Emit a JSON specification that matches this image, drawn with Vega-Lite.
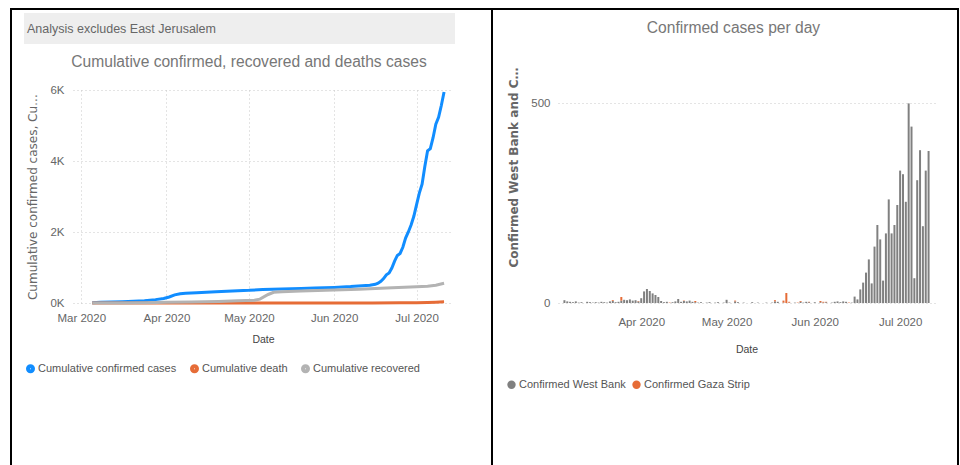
{
  "$schema": "https://vega.github.io/schema/vega-lite/v6.json",
  "padding": {"left": 10, "top": 8, "right": 0, "bottom": 0},
  "background": "white",
  "datasets": {
    "cum": [
      {"date": "2020-03-05", "series": "Cumulative confirmed cases", "value": 7},
      {"date": "2020-03-08", "series": "Cumulative confirmed cases", "value": 20},
      {"date": "2020-03-12", "series": "Cumulative confirmed cases", "value": 31},
      {"date": "2020-03-16", "series": "Cumulative confirmed cases", "value": 37},
      {"date": "2020-03-20", "series": "Cumulative confirmed cases", "value": 47},
      {"date": "2020-03-24", "series": "Cumulative confirmed cases", "value": 62},
      {"date": "2020-03-28", "series": "Cumulative confirmed cases", "value": 95},
      {"date": "2020-03-31", "series": "Cumulative confirmed cases", "value": 125},
      {"date": "2020-04-02", "series": "Cumulative confirmed cases", "value": 170},
      {"date": "2020-04-04", "series": "Cumulative confirmed cases", "value": 230},
      {"date": "2020-04-06", "series": "Cumulative confirmed cases", "value": 262},
      {"date": "2020-04-08", "series": "Cumulative confirmed cases", "value": 275},
      {"date": "2020-04-12", "series": "Cumulative confirmed cases", "value": 290},
      {"date": "2020-04-19", "series": "Cumulative confirmed cases", "value": 320},
      {"date": "2020-04-25", "series": "Cumulative confirmed cases", "value": 340},
      {"date": "2020-05-01", "series": "Cumulative confirmed cases", "value": 357},
      {"date": "2020-05-06", "series": "Cumulative confirmed cases", "value": 380},
      {"date": "2020-05-13", "series": "Cumulative confirmed cases", "value": 395},
      {"date": "2020-05-20", "series": "Cumulative confirmed cases", "value": 410},
      {"date": "2020-05-25", "series": "Cumulative confirmed cases", "value": 425},
      {"date": "2020-06-01", "series": "Cumulative confirmed cases", "value": 440},
      {"date": "2020-06-07", "series": "Cumulative confirmed cases", "value": 462},
      {"date": "2020-06-14", "series": "Cumulative confirmed cases", "value": 500},
      {"date": "2020-06-15", "series": "Cumulative confirmed cases", "value": 516},
      {"date": "2020-06-16", "series": "Cumulative confirmed cases", "value": 525},
      {"date": "2020-06-17", "series": "Cumulative confirmed cases", "value": 559},
      {"date": "2020-06-18", "series": "Cumulative confirmed cases", "value": 610},
      {"date": "2020-06-19", "series": "Cumulative confirmed cases", "value": 686},
      {"date": "2020-06-20", "series": "Cumulative confirmed cases", "value": 795},
      {"date": "2020-06-21", "series": "Cumulative confirmed cases", "value": 844},
      {"date": "2020-06-22", "series": "Cumulative confirmed cases", "value": 985},
      {"date": "2020-06-23", "series": "Cumulative confirmed cases", "value": 1180},
      {"date": "2020-06-24", "series": "Cumulative confirmed cases", "value": 1339},
      {"date": "2020-06-25", "series": "Cumulative confirmed cases", "value": 1395},
      {"date": "2020-06-26", "series": "Cumulative confirmed cases", "value": 1569},
      {"date": "2020-06-27", "series": "Cumulative confirmed cases", "value": 1828},
      {"date": "2020-06-28", "series": "Cumulative confirmed cases", "value": 2002},
      {"date": "2020-06-29", "series": "Cumulative confirmed cases", "value": 2197},
      {"date": "2020-06-30", "series": "Cumulative confirmed cases", "value": 2442},
      {"date": "2020-07-01", "series": "Cumulative confirmed cases", "value": 2773},
      {"date": "2020-07-02", "series": "Cumulative confirmed cases", "value": 3095},
      {"date": "2020-07-03", "series": "Cumulative confirmed cases", "value": 3348},
      {"date": "2020-07-04", "series": "Cumulative confirmed cases", "value": 3847},
      {"date": "2020-07-05", "series": "Cumulative confirmed cases", "value": 4288},
      {"date": "2020-07-06", "series": "Cumulative confirmed cases", "value": 4350},
      {"date": "2020-07-07", "series": "Cumulative confirmed cases", "value": 4657},
      {"date": "2020-07-08", "series": "Cumulative confirmed cases", "value": 5039},
      {"date": "2020-07-09", "series": "Cumulative confirmed cases", "value": 5231},
      {"date": "2020-07-10", "series": "Cumulative confirmed cases", "value": 5562},
      {"date": "2020-07-11", "series": "Cumulative confirmed cases", "value": 5942},
      {"date": "2020-03-05", "series": "Cumulative death", "value": 0},
      {"date": "2020-03-26", "series": "Cumulative death", "value": 1},
      {"date": "2020-04-05", "series": "Cumulative death", "value": 2},
      {"date": "2020-05-25", "series": "Cumulative death", "value": 3},
      {"date": "2020-06-15", "series": "Cumulative death", "value": 3},
      {"date": "2020-06-25", "series": "Cumulative death", "value": 5},
      {"date": "2020-07-01", "series": "Cumulative death", "value": 8},
      {"date": "2020-07-05", "series": "Cumulative death", "value": 14},
      {"date": "2020-07-08", "series": "Cumulative death", "value": 22},
      {"date": "2020-07-11", "series": "Cumulative death", "value": 32},
      {"date": "2020-03-05", "series": "Cumulative recovered", "value": 0},
      {"date": "2020-03-15", "series": "Cumulative recovered", "value": 2},
      {"date": "2020-03-25", "series": "Cumulative recovered", "value": 10},
      {"date": "2020-04-01", "series": "Cumulative recovered", "value": 18},
      {"date": "2020-04-10", "series": "Cumulative recovered", "value": 25},
      {"date": "2020-04-20", "series": "Cumulative recovered", "value": 45},
      {"date": "2020-04-27", "series": "Cumulative recovered", "value": 60},
      {"date": "2020-05-03", "series": "Cumulative recovered", "value": 75},
      {"date": "2020-05-05", "series": "Cumulative recovered", "value": 110},
      {"date": "2020-05-08", "series": "Cumulative recovered", "value": 240},
      {"date": "2020-05-10", "series": "Cumulative recovered", "value": 300},
      {"date": "2020-05-13", "series": "Cumulative recovered", "value": 320},
      {"date": "2020-05-20", "series": "Cumulative recovered", "value": 335},
      {"date": "2020-06-01", "series": "Cumulative recovered", "value": 365},
      {"date": "2020-06-10", "series": "Cumulative recovered", "value": 390},
      {"date": "2020-06-20", "series": "Cumulative recovered", "value": 420},
      {"date": "2020-07-01", "series": "Cumulative recovered", "value": 455},
      {"date": "2020-07-05", "series": "Cumulative recovered", "value": 470},
      {"date": "2020-07-08", "series": "Cumulative recovered", "value": 500},
      {"date": "2020-07-11", "series": "Cumulative recovered", "value": 555}
    ],
    "daily": [
      {"date": "2020-03-05", "series": "Confirmed West Bank", "value": 7},
      {"date": "2020-03-06", "series": "Confirmed West Bank", "value": 4},
      {"date": "2020-03-07", "series": "Confirmed West Bank", "value": 3},
      {"date": "2020-03-08", "series": "Confirmed West Bank", "value": 2},
      {"date": "2020-03-09", "series": "Confirmed West Bank", "value": 4},
      {"date": "2020-03-10", "series": "Confirmed West Bank", "value": 1},
      {"date": "2020-03-11", "series": "Confirmed West Bank", "value": 2},
      {"date": "2020-03-13", "series": "Confirmed West Bank", "value": 3},
      {"date": "2020-03-14", "series": "Confirmed West Bank", "value": 2},
      {"date": "2020-03-15", "series": "Confirmed West Bank", "value": 1},
      {"date": "2020-03-16", "series": "Confirmed West Bank", "value": 2},
      {"date": "2020-03-17", "series": "Confirmed West Bank", "value": 1},
      {"date": "2020-03-18", "series": "Confirmed West Bank", "value": 3},
      {"date": "2020-03-19", "series": "Confirmed West Bank", "value": 2},
      {"date": "2020-03-20", "series": "Confirmed West Bank", "value": 1},
      {"date": "2020-03-21", "series": "Confirmed West Bank", "value": 4},
      {"date": "2020-03-22", "series": "Confirmed West Bank", "value": 5},
      {"date": "2020-03-23", "series": "Confirmed West Bank", "value": 2},
      {"date": "2020-03-24", "series": "Confirmed West Bank", "value": 3},
      {"date": "2020-03-25", "series": "Confirmed West Bank", "value": 6},
      {"date": "2020-03-26", "series": "Confirmed West Bank", "value": 8},
      {"date": "2020-03-27", "series": "Confirmed West Bank", "value": 7},
      {"date": "2020-03-28", "series": "Confirmed West Bank", "value": 9},
      {"date": "2020-03-29", "series": "Confirmed West Bank", "value": 6},
      {"date": "2020-03-30", "series": "Confirmed West Bank", "value": 7},
      {"date": "2020-03-31", "series": "Confirmed West Bank", "value": 4},
      {"date": "2020-04-01", "series": "Confirmed West Bank", "value": 12},
      {"date": "2020-04-02", "series": "Confirmed West Bank", "value": 29},
      {"date": "2020-04-03", "series": "Confirmed West Bank", "value": 35},
      {"date": "2020-04-04", "series": "Confirmed West Bank", "value": 30},
      {"date": "2020-04-05", "series": "Confirmed West Bank", "value": 24},
      {"date": "2020-04-06", "series": "Confirmed West Bank", "value": 20},
      {"date": "2020-04-07", "series": "Confirmed West Bank", "value": 15},
      {"date": "2020-04-08", "series": "Confirmed West Bank", "value": 5},
      {"date": "2020-04-09", "series": "Confirmed West Bank", "value": 2},
      {"date": "2020-04-10", "series": "Confirmed West Bank", "value": 3},
      {"date": "2020-04-12", "series": "Confirmed West Bank", "value": 2},
      {"date": "2020-04-13", "series": "Confirmed West Bank", "value": 4},
      {"date": "2020-04-14", "series": "Confirmed West Bank", "value": 10},
      {"date": "2020-04-15", "series": "Confirmed West Bank", "value": 3},
      {"date": "2020-04-16", "series": "Confirmed West Bank", "value": 5},
      {"date": "2020-04-17", "series": "Confirmed West Bank", "value": 4},
      {"date": "2020-04-18", "series": "Confirmed West Bank", "value": 6},
      {"date": "2020-04-19", "series": "Confirmed West Bank", "value": 3},
      {"date": "2020-04-20", "series": "Confirmed West Bank", "value": 2},
      {"date": "2020-04-21", "series": "Confirmed West Bank", "value": 1},
      {"date": "2020-04-22", "series": "Confirmed West Bank", "value": 2},
      {"date": "2020-04-24", "series": "Confirmed West Bank", "value": 1},
      {"date": "2020-04-25", "series": "Confirmed West Bank", "value": 2},
      {"date": "2020-04-27", "series": "Confirmed West Bank", "value": 1},
      {"date": "2020-04-28", "series": "Confirmed West Bank", "value": 2},
      {"date": "2020-04-30", "series": "Confirmed West Bank", "value": 1},
      {"date": "2020-05-01", "series": "Confirmed West Bank", "value": 8},
      {"date": "2020-05-02", "series": "Confirmed West Bank", "value": 1},
      {"date": "2020-05-04", "series": "Confirmed West Bank", "value": 4},
      {"date": "2020-05-05", "series": "Confirmed West Bank", "value": 2},
      {"date": "2020-05-07", "series": "Confirmed West Bank", "value": 1},
      {"date": "2020-05-10", "series": "Confirmed West Bank", "value": 2},
      {"date": "2020-05-12", "series": "Confirmed West Bank", "value": 1},
      {"date": "2020-05-15", "series": "Confirmed West Bank", "value": 1},
      {"date": "2020-05-17", "series": "Confirmed West Bank", "value": 1},
      {"date": "2020-05-18", "series": "Confirmed West Bank", "value": 4},
      {"date": "2020-05-19", "series": "Confirmed West Bank", "value": 3},
      {"date": "2020-05-21", "series": "Confirmed West Bank", "value": 1},
      {"date": "2020-05-23", "series": "Confirmed West Bank", "value": 1},
      {"date": "2020-05-25", "series": "Confirmed West Bank", "value": 1},
      {"date": "2020-05-27", "series": "Confirmed West Bank", "value": 3},
      {"date": "2020-05-28", "series": "Confirmed West Bank", "value": 1},
      {"date": "2020-05-29", "series": "Confirmed West Bank", "value": 3},
      {"date": "2020-05-30", "series": "Confirmed West Bank", "value": 2},
      {"date": "2020-06-01", "series": "Confirmed West Bank", "value": 2},
      {"date": "2020-06-03", "series": "Confirmed West Bank", "value": 2},
      {"date": "2020-06-04", "series": "Confirmed West Bank", "value": 1},
      {"date": "2020-06-05", "series": "Confirmed West Bank", "value": 2},
      {"date": "2020-06-07", "series": "Confirmed West Bank", "value": 1},
      {"date": "2020-06-08", "series": "Confirmed West Bank", "value": 3},
      {"date": "2020-06-09", "series": "Confirmed West Bank", "value": 4},
      {"date": "2020-06-10", "series": "Confirmed West Bank", "value": 2},
      {"date": "2020-06-11", "series": "Confirmed West Bank", "value": 4},
      {"date": "2020-06-12", "series": "Confirmed West Bank", "value": 3},
      {"date": "2020-06-14", "series": "Confirmed West Bank", "value": 1},
      {"date": "2020-06-15", "series": "Confirmed West Bank", "value": 16},
      {"date": "2020-06-16", "series": "Confirmed West Bank", "value": 9},
      {"date": "2020-06-17", "series": "Confirmed West Bank", "value": 34},
      {"date": "2020-06-18", "series": "Confirmed West Bank", "value": 51},
      {"date": "2020-06-19", "series": "Confirmed West Bank", "value": 76},
      {"date": "2020-06-20", "series": "Confirmed West Bank", "value": 109},
      {"date": "2020-06-21", "series": "Confirmed West Bank", "value": 49},
      {"date": "2020-06-22", "series": "Confirmed West Bank", "value": 141},
      {"date": "2020-06-23", "series": "Confirmed West Bank", "value": 195},
      {"date": "2020-06-24", "series": "Confirmed West Bank", "value": 159},
      {"date": "2020-06-25", "series": "Confirmed West Bank", "value": 56},
      {"date": "2020-06-26", "series": "Confirmed West Bank", "value": 174},
      {"date": "2020-06-27", "series": "Confirmed West Bank", "value": 259},
      {"date": "2020-06-28", "series": "Confirmed West Bank", "value": 174},
      {"date": "2020-06-29", "series": "Confirmed West Bank", "value": 195},
      {"date": "2020-06-30", "series": "Confirmed West Bank", "value": 245},
      {"date": "2020-07-01", "series": "Confirmed West Bank", "value": 331},
      {"date": "2020-07-02", "series": "Confirmed West Bank", "value": 322},
      {"date": "2020-07-03", "series": "Confirmed West Bank", "value": 253},
      {"date": "2020-07-04", "series": "Confirmed West Bank", "value": 499},
      {"date": "2020-07-05", "series": "Confirmed West Bank", "value": 441},
      {"date": "2020-07-06", "series": "Confirmed West Bank", "value": 62},
      {"date": "2020-07-07", "series": "Confirmed West Bank", "value": 307},
      {"date": "2020-07-08", "series": "Confirmed West Bank", "value": 382},
      {"date": "2020-07-09", "series": "Confirmed West Bank", "value": 192},
      {"date": "2020-07-10", "series": "Confirmed West Bank", "value": 331},
      {"date": "2020-07-11", "series": "Confirmed West Bank", "value": 380},
      {"date": "2020-03-22", "series": "Confirmed Gaza Strip", "value": 2},
      {"date": "2020-03-25", "series": "Confirmed Gaza Strip", "value": 9},
      {"date": "2020-03-31", "series": "Confirmed Gaza Strip", "value": 1},
      {"date": "2020-04-11", "series": "Confirmed Gaza Strip", "value": 1},
      {"date": "2020-04-16", "series": "Confirmed Gaza Strip", "value": 1},
      {"date": "2020-04-20", "series": "Confirmed Gaza Strip", "value": 3},
      {"date": "2020-05-04", "series": "Confirmed Gaza Strip", "value": 2},
      {"date": "2020-05-18", "series": "Confirmed Gaza Strip", "value": 3},
      {"date": "2020-05-21", "series": "Confirmed Gaza Strip", "value": 5},
      {"date": "2020-05-22", "series": "Confirmed Gaza Strip", "value": 25},
      {"date": "2020-05-23", "series": "Confirmed Gaza Strip", "value": 2},
      {"date": "2020-05-26", "series": "Confirmed Gaza Strip", "value": 1},
      {"date": "2020-05-27", "series": "Confirmed Gaza Strip", "value": 2},
      {"date": "2020-05-30", "series": "Confirmed Gaza Strip", "value": 1},
      {"date": "2020-06-03", "series": "Confirmed Gaza Strip", "value": 3},
      {"date": "2020-06-04", "series": "Confirmed Gaza Strip", "value": 2},
      {"date": "2020-06-05", "series": "Confirmed Gaza Strip", "value": 1},
      {"date": "2020-06-13", "series": "Confirmed Gaza Strip", "value": 1}
    ]
  },
  "config": {
    "view": {"stroke": null},
    "font": "Liberation Sans, Arial, sans-serif",
    "axis": {
      "domain": false,
      "ticks": false,
      "labelFont": "Liberation Sans, Arial, sans-serif",
      "labelFontSize": 11.5,
      "labelColor": "#666666",
      "labelFlush": false,
      "titleFont": "Liberation Sans, Arial, sans-serif",
      "titleFontSize": 10.5,
      "titleFontWeight": "normal",
      "titleColor": "#444444",
      "gridColor": "#c8c8c8",
      "gridDash": [1, 3],
      "gridWidth": 1
    },
    "legend": {
      "labelFont": "Liberation Sans, Arial, sans-serif",
      "labelFontSize": 11,
      "labelColor": "#555555",
      "columnPadding": 5,
      "labelOffset": 2
    },
    "title": {
      "font": "Liberation Sans, Arial, sans-serif",
      "fontSize": 15.6,
      "fontWeight": "normal",
      "color": "#777777"
    }
  },
  "resolve": {"scale": {"color": "independent"}, "legend": {"color": "independent"}},
  "spacing": 0,
  "vconcat": [
    {
      "width": 949,
      "height": 2,
      "data": {"values": []},
      "mark": {"type": "point", "opacity": 0},
      "encoding": {},
      "view": {"fill": "#000000", "stroke": null}
    },
    {
      "spacing": 22,
      "resolve": {"scale": {"color": "independent"}, "legend": {"color": "independent"}},
      "hconcat": [
        {
          "spacing": 36,
          "resolve": {"scale": {"color": "independent"}, "legend": {"color": "independent"}},
          "hconcat": [
            {
              "spacing": 12,
              "resolve": {"scale": {"color": "independent"}, "legend": {"color": "independent"}},
              "hconcat": [
                {
                  "width": 2,
                  "height": 460,
                  "data": {"values": []},
                  "mark": {"type": "point", "opacity": 0},
                  "encoding": {},
                  "view": {"fill": "#000000", "stroke": null}
                },
                {
                  "spacing": 2,
                  "resolve": {"scale": {"color": "independent"}, "legend": {"color": "independent"}},
                  "vconcat": [
                    {
                      "width": 1,
                      "height": 1,
                      "data": {"values": []},
                      "mark": {"type": "point", "opacity": 0},
                      "encoding": {}
                    },
                    {
                      "spacing": 11,
                      "resolve": {"scale": {"color": "independent"}, "legend": {"color": "independent"}},
                      "vconcat": [
                        {
                          "width": 431,
                          "height": 31,
                          "data": {"values": [{"t": "Analysis excludes East Jerusalem"}]},
                          "mark": {"type": "text", "align": "left", "baseline": "middle", "fontSize": 12.5, "color": "#666666", "dx": 3},
                          "encoding": {
                            "text": {"field": "t"},
                            "x": {"datum": 0, "type": "quantitative", "scale": {"domain": [0, 1]}, "axis": null}
                          },
                          "view": {"fill": "#eeeeee", "stroke": null}
                        },
                        {
                          "spacing": 0,
                          "resolve": {"scale": {"color": "independent"}, "legend": {"color": "independent"}},
                          "hconcat": [
                            {
                              "width": 1,
                              "height": 1,
                              "data": {"values": []},
                              "mark": {"type": "point", "opacity": 0},
                              "encoding": {}
                            },
                            {
                              "width": 380,
                              "height": 213,
                              "title": {"text": "Cumulative confirmed, recovered and deaths cases", "anchor": "middle", "offset": 13, "dx": -14},
                              "data": {"name": "cum"},
                              "mark": {"type": "line", "strokeWidth": 3},
                              "encoding": {
                                "x": {
                                  "field": "date",
                                  "type": "temporal",
                                  "scale": {"type": "utc", "domain": [{"year": 2020, "month": 2, "date": 27, "utc": true}, {"year": 2020, "month": 7, "date": 14, "hours": 6, "utc": true}]},
                                  "axis": {
                                    "title": "Date",
                                    "format": "%b %Y",
                                    "values": [
                                      {"year": 2020, "month": 3, "date": 1, "utc": true},
                                      {"year": 2020, "month": 4, "date": 1, "utc": true},
                                      {"year": 2020, "month": 5, "date": 1, "utc": true},
                                      {"year": 2020, "month": 6, "date": 1, "utc": true},
                                      {"year": 2020, "month": 7, "date": 1, "utc": true}
                                    ],
                                    "grid": true,
                                    "labelPadding": 9,
                                    "titlePadding": 11
                                  }
                                },
                                "y": {
                                  "field": "value",
                                  "type": "quantitative",
                                  "scale": {"domain": [0, 6000]},
                                  "axis": {
                                    "title": "Cumulative confirmed cases, Cu…",
                                    "titleFont": "DejaVu Sans",
                                    "titleFontSize": 12,
                                    "titleColor": "#666666",
                                    "values": [0, 2000, 4000, 6000],
                                    "labelExpr": "datum.value / 1000 + 'K'",
                                    "grid": true,
                                    "labelPadding": 9,
                                    "titlePadding": 10
                                  }
                                },
                                "color": {
                                  "field": "series",
                                  "type": "nominal",
                                  "scale": {
                                    "domain": ["Cumulative confirmed cases", "Cumulative death", "Cumulative recovered"],
                                    "range": ["#118DFF", "#E66C37", "#B3B3B3"]
                                  },
                                  "legend": {
                                    "orient": "none",
                                    "legendX": -48,
                                    "legendY": 273,
                                    "direction": "horizontal",
                                    "title": null,
                                    "symbolType": "circle",
                                    "symbolSize": 16,
                                    "symbolStrokeWidth": 5
                                  }
                                }
                              }
                            }
                          ]
                        }
                      ]
                    }
                  ]
                }
              ]
            },
            {
              "spacing": 13,
              "resolve": {"scale": {"color": "independent"}, "legend": {"color": "independent"}},
              "hconcat": [
                {
                  "width": 2,
                  "height": 460,
                  "data": {"values": []},
                  "mark": {"type": "point", "opacity": 0},
                  "encoding": {},
                  "view": {"fill": "#000000", "stroke": null}
                },
                {
                  "spacing": 10,
                  "resolve": {"scale": {"color": "independent"}, "legend": {"color": "independent"}},
                  "vconcat": [
                    {
                      "width": 1,
                      "height": 1,
                      "data": {"values": []},
                      "mark": {"type": "point", "opacity": 0},
                      "encoding": {}
                    },
                    {
                      "width": 377,
                      "height": 240,
                      "title": {"text": "Confirmed cases per day", "anchor": "middle", "offset": 26, "dx": -13},
                      "data": {"name": "daily"},
                      "mark": {"type": "bar", "width": 2},
                      "encoding": {
                        "x": {
                          "field": "date",
                          "type": "temporal",
                          "scale": {"type": "utc", "domain": [{"year": 2020, "month": 3, "date": 4, "hours": 12, "utc": true}, {"year": 2020, "month": 7, "date": 11, "hours": 12, "utc": true}]},
                          "axis": {
                            "title": "Date",
                            "format": "%b %Y",
                            "values": [
                              {"year": 2020, "month": 4, "date": 1, "utc": true},
                              {"year": 2020, "month": 5, "date": 1, "utc": true},
                              {"year": 2020, "month": 6, "date": 1, "utc": true},
                              {"year": 2020, "month": 7, "date": 1, "utc": true}
                            ],
                            "grid": false,
                            "labelPadding": 13,
                            "titlePadding": 17
                          }
                        },
                        "y": {
                          "field": "value",
                          "type": "quantitative",
                          "stack": "zero",
                          "scale": {"domain": [0, 600]},
                          "axis": {
                            "title": "Confirmed West Bank and C…",
                            "titleFont": "DejaVu Sans",
                            "titleFontSize": 12,
                            "titleFontWeight": "bold",
                            "titleColor": "#666666",
                            "titleAnchor": "end",
                            "titleY": 4,
                            "values": [0, 500],
                            "grid": true,
                            "labelPadding": 8,
                            "titlePadding": 10
                          }
                        },
                        "color": {
                          "field": "series",
                          "type": "nominal",
                          "scale": {
                            "domain": ["Confirmed West Bank", "Confirmed Gaza Strip"],
                            "range": ["#808080", "#E66C37"]
                          },
                          "legend": {
                            "orient": "none",
                            "legendX": -52,
                            "legendY": 316,
                            "direction": "horizontal",
                            "title": null,
                            "symbolType": "circle",
                            "symbolSize": 70,
                            "symbolStrokeWidth": 0
                          }
                        },
                        "order": {"field": "series", "sort": "descending"}
                      }
                    }
                  ]
                }
              ]
            }
          ]
        },
        {
          "width": 2,
          "height": 460,
          "data": {"values": []},
          "mark": {"type": "point", "opacity": 0},
          "encoding": {},
          "view": {"fill": "#000000", "stroke": null}
        }
      ]
    }
  ]
}
